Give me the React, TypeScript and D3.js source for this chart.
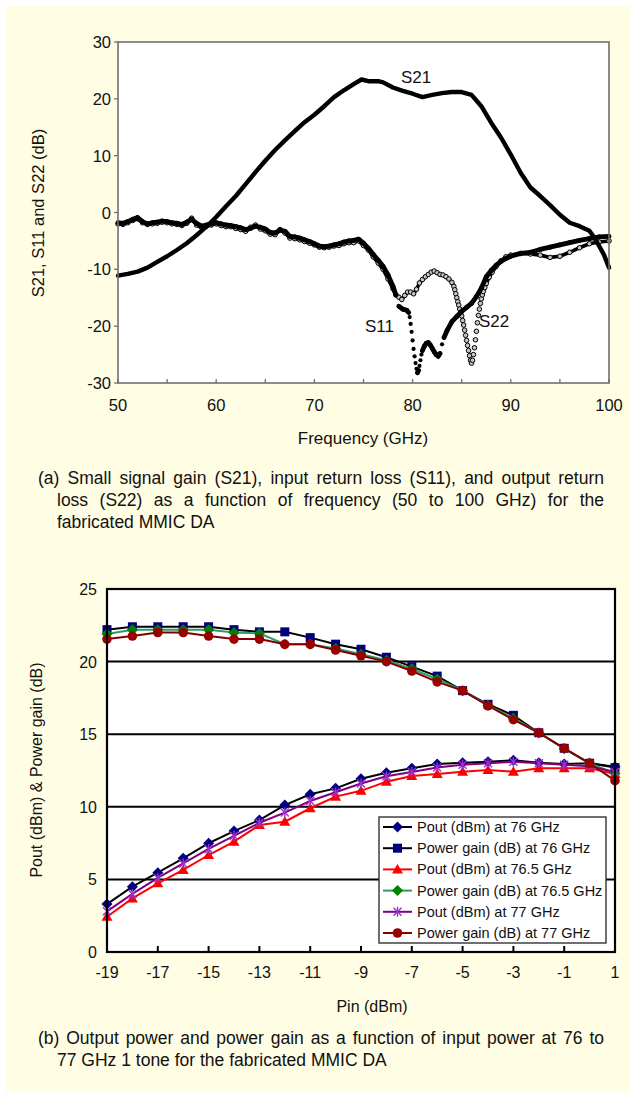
import React from 'react';
import * as d3 from 'd3';

const W = 636;
const H = 1097;
const FONT = '"Liberation Sans", Arial, Helvetica, sans-serif';

// ---------- (a) S-parameters vs frequency ----------
const freqTicks = [50, 60, 70, 80, 90, 100];
const freqMinorTicks = [55, 65, 75, 85, 95];
const sParamTicks = [-30, -20, -10, 0, 10, 20, 30];

const s21Points: [number, number][] = [
  [50, -11.1], [51, -10.8], [52, -10.4], [53, -9.7], [54, -8.7], [55, -7.7], [56, -6.6], [57, -5.4],
  [58, -4.0], [59, -2.5], [60, -0.8], [61, 1.1], [62, 2.9], [63, 5.0], [64, 7.1], [65, 9.1], [66, 11.0],
  [67, 12.7], [68, 14.3], [69, 15.9], [70, 17.2], [71, 18.7], [72, 20.3], [73, 21.5], [74, 22.6],
  [74.8, 23.4], [75.5, 23.1], [76.5, 23.1], [77, 22.9], [78, 22.0], [79, 21.4], [80, 20.9], [81, 20.3],
  [82, 20.7], [83, 21.0], [84, 21.2], [85, 21.2], [86, 20.7], [87, 18.7], [88, 15.8], [89, 13.2],
  [90, 10.2], [91, 7.0], [92, 4.4], [93, 2.9], [94, 1.3], [95, -0.4], [96, -1.8], [97, -2.4], [98, -3.2],
  [98.5, -4.4], [99, -5.9], [99.5, -7.5], [100, -9.7],
];

const s11Points: [number, number][] = [
  [50, -1.8], [50.5, -1.9], [51, -1.6], [51.5, -1.2], [52, -0.9], [52.5, -1.6], [53, -2.0], [53.5, -1.8],
  [54, -1.7], [54.5, -1.5], [55, -1.6], [55.5, -1.8], [56, -1.9], [56.5, -2.1], [57, -1.7], [57.5, -1.2],
  [58, -1.9], [58.5, -2.4], [59, -2.2], [59.5, -2.0], [60, -1.8], [60.5, -2.0], [61, -2.2], [61.5, -2.3],
  [62, -2.5], [62.5, -2.7], [63, -3.0], [63.5, -2.8], [64, -2.4], [64.5, -2.6], [65, -2.9], [65.5, -3.5],
  [66, -3.6], [66.5, -3.1], [67, -3.3], [67.5, -4.2], [68, -4.3], [68.5, -4.5], [69, -4.8], [69.5, -5.1],
  [70, -5.5], [70.5, -5.9], [71, -6.0], [71.5, -5.9], [72, -5.7], [72.5, -5.5], [73, -5.2], [73.5, -5.0],
  [74, -4.9], [74.5, -4.7], [75, -5.4], [75.5, -6.3], [76, -7.4], [76.5, -8.4], [77, -9.5], [77.5, -11.0],
  [78, -13.0], [78.3, -14.5], [78.6, -16.5], [79, -17.0], [79.4, -17.2], [79.6, -17.6], [79.7, -18.4],
  [79.8, -19.6], [79.9, -21.0], [80, -22.5], [80.1, -24.0], [80.2, -25.3], [80.3, -26.5], [80.4, -27.5],
  [80.5, -28.2], [80.6, -27.8], [80.7, -27.0], [80.8, -26.0], [80.9, -25.0], [81, -24.3], [81.2, -23.5],
  [81.4, -23.0], [81.6, -22.9], [81.8, -23.3], [82, -23.9], [82.2, -24.5], [82.4, -25.0], [82.6, -25.3],
  [82.8, -24.8], [83, -23.2], [83.2, -22.0], [83.5, -20.8], [84, -19.2], [84.5, -18.3], [85, -17.4],
  [85.5, -16.7], [86, -16.0], [86.5, -14.8], [87, -13.3], [87.5, -11.3], [88, -10.2], [88.5, -9.3],
  [89, -8.6], [89.5, -8.1], [90, -7.7], [91, -7.2], [92, -7.0], [93, -6.5], [94, -6.1], [95, -5.7],
  [96, -5.3], [97, -4.9], [98, -4.6], [99, -4.3], [100, -4.2],
];

const s22Points: [number, number][] = [
  [50, -2.0], [50.5, -2.1], [51, -1.8], [51.5, -1.4], [52, -1.1], [52.5, -1.8], [53, -2.1], [53.5, -2.0],
  [54, -1.9], [54.5, -1.7], [55, -1.8], [55.5, -2.0], [56, -2.1], [56.5, -2.3], [57, -1.9], [57.5, -1.0],
  [58, -2.2], [58.5, -2.6], [59, -2.4], [59.5, -2.2], [60, -2.0], [60.5, -2.3], [61, -2.5], [61.5, -2.5],
  [62, -2.8], [62.5, -3.0], [63, -3.3], [63.5, -2.6], [64, -2.2], [64.5, -2.9], [65, -3.2], [65.5, -3.8],
  [66, -3.9], [66.5, -3.0], [67, -3.6], [67.5, -4.5], [68, -4.6], [68.5, -4.8], [69, -5.1], [69.5, -5.4],
  [70, -5.7], [70.5, -6.1], [71, -6.2], [71.5, -6.1], [72, -5.9], [72.5, -5.8], [73, -5.5], [73.5, -5.3],
  [74, -5.3], [74.5, -5.0], [75, -5.8], [75.5, -6.6], [76, -7.8], [76.5, -8.9], [77, -10.0], [77.5, -11.7],
  [78, -13.4], [78.3, -14.5], [78.6, -14.9], [78.9, -15.3], [79.2, -14.6], [79.5, -14.0], [79.8, -14.0],
  [80.1, -14.3], [80.4, -13.5], [80.7, -12.4], [81, -11.8], [81.3, -11.3], [81.6, -10.9], [81.9, -10.5],
  [82.2, -10.3], [82.5, -10.6], [82.8, -10.9], [83.1, -11.0], [83.4, -11.3], [83.7, -11.7], [84, -12.3],
  [84.2, -13.0], [84.3, -13.6], [84.4, -14.3], [84.5, -15.0], [84.6, -15.7], [84.7, -16.3], [84.8, -17.0],
  [84.9, -17.6], [85, -18.2], [85.1, -19.0], [85.2, -19.8], [85.3, -20.7], [85.4, -21.6], [85.5, -22.5],
  [85.6, -23.4], [85.7, -24.3], [85.8, -25.2], [85.9, -26.0], [86, -26.5], [86.1, -26.0], [86.2, -25.0],
  [86.3, -23.8], [86.4, -22.4], [86.5, -20.9], [86.6, -19.4], [86.7, -18.1], [86.8, -17.0], [86.9, -16.0],
  [87, -15.2], [87.1, -14.5], [87.2, -13.9], [87.35, -13.2], [87.5, -12.5], [87.8, -11.4], [88.1, -10.5],
  [88.5, -9.5], [89, -8.5], [89.5, -7.8], [90, -7.5], [91, -7.2], [92, -7.3], [93, -7.5], [94, -7.9],
  [95, -7.7], [96, -7.0], [97, -6.2], [98, -5.5], [99, -5.2], [100, -5.0],
];

// ---------- (b) power sweep ----------
const pinDbm = [-19, -18, -17, -16, -15, -14, -13, -12, -11, -10, -9, -8, -7, -6, -5, -4, -3, -2, -1, 0, 1];
const pout76 = [3.3, 4.5, 5.46, 6.45, 7.49, 8.33, 9.09, 10.12, 10.86, 11.27, 11.93, 12.35, 12.65, 12.95, 13.04, 13.1, 13.2, 13.04, 12.95, 13.0, 12.76];
const gain76 = [22.2, 22.4, 22.4, 22.4, 22.4, 22.2, 22.05, 22.05, 21.65, 21.2, 20.85, 20.3, 19.65, 19.0, 18.0, 17.06, 16.3, 15.1, 14.03, 13.0, 12.7];
const pout765 = [2.43, 3.69, 4.73, 5.65, 6.68, 7.6, 8.75, 8.97, 9.9, 10.7, 11.1, 11.73, 12.12, 12.26, 12.42, 12.53, 12.42, 12.65, 12.65, 12.65, 12.26];
const gain765 = [21.9, 22.2, 22.2, 22.2, 22.2, 22.0, 21.95, 21.2, 21.2, 20.9, 20.5, 20.1, 19.5, 18.8, 18.0, 17.0, 16.1, 15.1, 14.0, 13.0, 12.3];
const pout77 = [2.8, 4.0, 5.1, 6.1, 7.1, 8.0, 8.9, 9.6, 10.4, 11.0, 11.6, 12.1, 12.4, 12.7, 12.9, 13.0, 13.1, 13.0, 12.9, 12.8, 12.4];
const gain77 = [21.55, 21.76, 22.0, 22.0, 21.76, 21.55, 21.55, 21.19, 21.19, 20.8, 20.4, 20.0, 19.35, 18.6, 18.0, 16.96, 16.0, 15.1, 14.03, 13.0, 11.8];
const pinTicks = [-19, -17, -15, -13, -11, -9, -7, -5, -3, -1, 1];
const powerTicks = [0, 5, 10, 15, 20, 25];
const powerGrid = [5, 10, 15, 20];

type MarkerKind = 'diamond' | 'square' | 'triangle' | 'asterisk' | 'circle';
interface Series { name: string; values: number[]; line: string; marker: string; kind: MarkerKind; }

const powerSeries: Series[] = [
  { name: 'Pout (dBm) at 76 GHz', values: pout76, line: '#000000', marker: '#000080', kind: 'diamond' },
  { name: 'Power gain (dB) at 76 GHz', values: gain76, line: '#000000', marker: '#000080', kind: 'square' },
  { name: 'Pout (dBm) at 76.5 GHz', values: pout765, line: '#ff0000', marker: '#ff0000', kind: 'triangle' },
  { name: 'Power gain (dB) at 76.5 GHz', values: gain765, line: '#339966', marker: '#008000', kind: 'diamond' },
  { name: 'Pout (dBm) at 77 GHz', values: pout77, line: '#800080', marker: '#9933cc', kind: 'asterisk' },
  { name: 'Power gain (dB) at 77 GHz', values: gain77, line: '#800000', marker: '#990000', kind: 'circle' },
];

function Marker({ kind, x, y, color }: { kind: MarkerKind; x: number; y: number; color: string }) {
  switch (kind) {
    case 'diamond':
      return <path d={`M${x},${y - 5.5}L${x + 5.5},${y}L${x},${y + 5.5}L${x - 5.5},${y}Z`} fill={color} />;
    case 'square':
      return <rect x={x - 4.5} y={y - 4.5} width={9} height={9} fill={color} />;
    case 'triangle':
      return <path d={`M${x},${y - 5.5}L${x + 5.5},${y + 4}L${x - 5.5},${y + 4}Z`} fill={color} />;
    case 'circle':
      return <circle cx={x} cy={y} r={4.8} fill={color} />;
    case 'asterisk':
      return (
        <g stroke={color} strokeWidth={1.4}>
          <line x1={x - 4} y1={y - 4} x2={x + 4} y2={y + 4} />
          <line x1={x - 4} y1={y + 4} x2={x + 4} y2={y - 4} />
          <line x1={x} y1={y - 5} x2={x} y2={y + 5} />
        </g>
      );
  }
}

function SParamChart() {
  const x = d3.scaleLinear().domain([50, 100]).range([118, 609]);
  const y = d3.scaleLinear().domain([-30, 30]).range([383, 42]);
  const line = d3.line<[number, number]>().x((d) => x(d[0])).y((d) => y(d[1]));
  const axisColor = '#707070';

  // join neighbouring samples only where the trace is not too steep,
  // so the deep notches show up as separate markers
  const segments = (pts: [number, number][], maxSlope: number) =>
    pts.slice(1).map((p, i) => [pts[i], p] as [number, number][])
      .filter(([a, b]) => Math.abs(y(a[1]) - y(b[1])) <= maxSlope * Math.abs(x(a[0]) - x(b[0])));

  return (
    <g>
      <rect x={118} y={42} width={491} height={341} fill="#ffffff" />
      {/* S22: open circles */}
      <g>
        {segments(s22Points, 3).map((s, i) => (
          <path key={i} d={line(s) ?? ''} stroke="#000" strokeWidth={3.6} fill="none" strokeLinecap="round" />
        ))}
        {s22Points.map((p, i) => (
          <circle key={i} cx={x(p[0])} cy={y(p[1])} r={2.3} fill="#c4c4c4" stroke="#000" strokeWidth={1} />
        ))}
      </g>
      {/* S11: filled dots */}
      <g>
        {segments(s11Points, 3).map((s, i) => (
          <path key={i} d={line(s) ?? ''} stroke="#000" strokeWidth={4.8} fill="none" strokeLinecap="round" />
        ))}
        {s11Points.map((p, i) => (
          <circle key={i} cx={x(p[0])} cy={y(p[1])} r={2.1} fill="#000" />
        ))}
      </g>
      {/* S21 */}
      <path d={line(s21Points) ?? ''} stroke="#000" strokeWidth={4.4} fill="none" strokeLinejoin="round" strokeLinecap="round" />

      <rect x={118} y={42} width={491} height={341} fill="none" stroke={axisColor} strokeWidth={1.6} />
      {freqTicks.concat(freqMinorTicks).map((t) => (
        <line key={t} x1={x(t)} x2={x(t)} y1={383} y2={379} stroke={axisColor} strokeWidth={1.3} />
      ))}
      {sParamTicks.map((t) => (
        <line key={t} x1={114} x2={118} y1={y(t)} y2={y(t)} stroke={axisColor} strokeWidth={1.3} />
      ))}
      <g fontFamily={FONT} fontSize={16.5} fill="#111">
        {freqTicks.map((t) => (
          <text key={t} x={x(t)} y={411} textAnchor="middle">{t}</text>
        ))}
        {sParamTicks.map((t) => (
          <text key={t} x={111} y={y(t) + 6} textAnchor="end">{t}</text>
        ))}
        <text x={363} y={444} textAnchor="middle" fontSize={17}>Frequency (GHz)</text>
        <text transform="translate(44,213) rotate(-90)" textAnchor="middle">S21, S11 and S22 (dB)</text>
        <text x={401} y={83} fontSize={17}>S21</text>
        <text x={365} y={332} fontSize={17}>S11</text>
        <text x={479} y={327} fontSize={17}>S22</text>
      </g>
    </g>
  );
}

function PowerChart() {
  const x = d3.scaleLinear().domain([-19, 1]).range([107, 615]);
  const y = d3.scaleLinear().domain([0, 25]).range([952, 589]);
  const line = d3.line<number>().x((_, i) => x(pinDbm[i])).y((d) => y(d));

  const legendX = 379;
  const legendY = 817;
  const rowH = 21.2;

  return (
    <g>
      <rect x={107} y={589} width={508} height={363} fill="#ffffff" />
      {powerGrid.map((t) => (
        <line key={t} x1={107} x2={615} y1={y(t)} y2={y(t)} stroke="#000" strokeWidth={2} />
      ))}
      {powerSeries.map((s) => (
        <g key={s.name}>
          <path d={line(s.values) ?? ''} stroke={s.line} strokeWidth={2} fill="none" />
          {s.values.map((v, i) => (
            <Marker key={i} kind={s.kind} x={x(pinDbm[i])} y={y(v)} color={s.marker} />
          ))}
        </g>
      ))}
      <rect x={107} y={589} width={508} height={363} fill="none" stroke="#000" strokeWidth={2.2} />
      {pinTicks.map((t) => (
        <line key={t} x1={x(t)} x2={x(t)} y1={952} y2={946} stroke="#000" strokeWidth={2} />
      ))}

      {/* legend */}
      <rect x={legendX} y={legendY} width={227} height={126} fill="#ffffff" stroke="#333" strokeWidth={1.4} />
      {powerSeries.map((s, i) => {
        const cy = legendY + 10 + rowH * i;
        return (
          <g key={s.name}>
            <line x1={legendX + 4} x2={legendX + 33} y1={cy} y2={cy} stroke={s.line} strokeWidth={2} />
            <Marker kind={s.kind} x={legendX + 18.5} y={cy} color={s.marker} />
            <text x={legendX + 38} y={cy + 5} fontFamily={FONT} fontSize={14.5} fill="#111">{s.name}</text>
          </g>
        );
      })}

      <g fontFamily={FONT} fontSize={16} fill="#111">
        {pinTicks.map((t) => (
          <text key={t} x={x(t)} y={978} textAnchor="middle">{t}</text>
        ))}
        {powerTicks.map((t) => (
          <text key={t} x={97} y={y(t) + 6} textAnchor="end">{t}</text>
        ))}
        <text x={372} y={1012} textAnchor="middle">Pin (dBm)</text>
        <text transform="translate(42,770) rotate(-90)" textAnchor="middle">Pout (dBm) &amp; Power gain (dB)</text>
      </g>
    </g>
  );
}

// ---------- captions (justified paragraphs) ----------
const CAPTION_SIZE = 17.5;
const CAPTION_FONT = `${CAPTION_SIZE}px "Liberation Sans", Arial, sans-serif`;
const CAPTION_RIGHT = 604;

let measureCtx: CanvasRenderingContext2D | null = null;
function textWidth(s: string): number {
  if (!measureCtx) measureCtx = document.createElement('canvas').getContext('2d');
  if (!measureCtx) return s.length * CAPTION_SIZE * 0.5;
  measureCtx.font = CAPTION_FONT;
  return measureCtx.measureText(s).width;
}

interface CaptionLine { text: string; x: number; justify: boolean; }

function Caption({ lines, y0 }: { lines: CaptionLine[]; y0: number }) {
  return (
    <g fontFamily={FONT} fontSize={CAPTION_SIZE} fill="#111">
      {lines.map((l, i) => {
        const y = y0 + i * 22;
        if (!l.justify) return <text key={i} x={l.x} y={y}>{l.text}</text>;
        const words = l.text.split(' ');
        const widths = words.map(textWidth);
        const total = d3.sum(widths);
        const gap = (CAPTION_RIGHT - l.x - total) / (words.length - 1);
        let cursor = l.x;
        return (
          <g key={i}>
            {words.map((w, j) => {
              const wx = cursor;
              cursor += widths[j] + gap;
              return <text key={j} x={wx} y={y}>{w}</text>;
            })}
          </g>
        );
      })}
    </g>
  );
}

const captionA: CaptionLine[] = [
  { text: '(a) Small signal gain (S21), input return loss (S11), and output return', x: 38, justify: true },
  { text: 'loss (S22) as a function of frequency (50 to 100 GHz) for the', x: 57, justify: true },
  { text: 'fabricated MMIC DA', x: 57, justify: false },
];
const captionB: CaptionLine[] = [
  { text: '(b) Output power and power gain as a function of input power at 76 to', x: 38, justify: true },
  { text: '77 GHz 1 tone for the fabricated MMIC DA', x: 57, justify: false },
];

export default function App() {
  return (
    <svg
      width={W}
      height={H}
      viewBox={`0 0 ${W} ${H}`}
      style={{ position: 'absolute', left: 0, top: 0, display: 'block' }}
    >
      <rect x={0} y={0} width={W} height={H} fill="#ffffff" />
      <rect x={6} y={6} width={624} height={1086} fill="#fffde3" />
      <SParamChart />
      <Caption lines={captionA} y0={484} />
      <PowerChart />
      <Caption lines={captionB} y0={1044} />
    </svg>
  );
}
